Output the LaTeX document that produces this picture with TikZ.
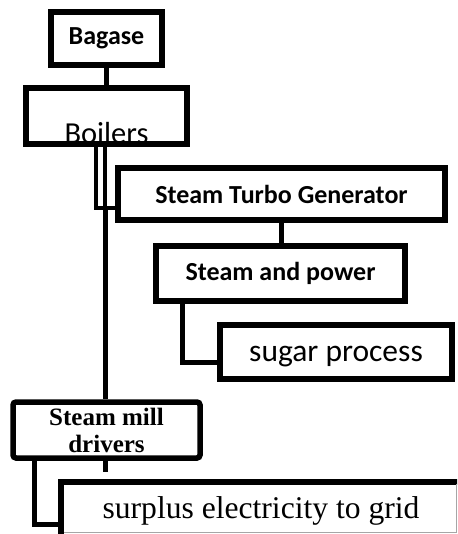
\documentclass[tikz,border=0pt]{standalone}
\usepackage{fontspec}
\setmainfont{Liberation Serif}
\newfontfamily\calibri{Carlito}
\begin{document}
\begin{tikzpicture}[x=1pt,y=-1pt,
	box/.style={draw, line width=5.5pt, inner sep=0pt},
	head/.style={font=\calibri\bfseries\fontsize{26}{27}\selectfont},
	plain/.style={font=\calibri\fontsize{30.5}{32}\selectfont},
	link/.style={line width=5pt},
	twin/.style={line width=4pt}]
	\useasboundingbox (0,0) rectangle (457,534);
	\clip (0,0) rectangle (457,534);
	\node[box, head, minimum width=111pt, minimum height=53pt] (bagase) at (106.5,38.5) {Bagase};
	\node[box, minimum width=161pt, minimum height=56pt, label={[plain, anchor=base, label distance=-3.5pt]south:Boilers}] (boilers) at (106.5,116) {};
	\node[box, head, minimum width=327pt, minimum height=52pt] (stg) at (281.5,194) {Steam Turbo Generator};
	\node[box, head, minimum width=249pt, minimum height=55pt] (power) at (280.5,273.5) {Steam and power};
	\node[box, plain, font=\calibri\fontsize{31.5}{33}\selectfont, minimum width=232pt, minimum height=54pt, text height=18pt, text depth=0pt] (sugar) at (336,352) {sugar process};
	\node[box, rounded corners=3pt, align=center, font=\bfseries\fontsize{25}{27}\selectfont, minimum width=187pt, minimum height=56pt] (mill) at (106.5,430) {Steam mill\\drivers};
	\node[box, font=\fontsize{31.6}{33}\selectfont, minimum width=400pt, minimum height=58pt] (grid) at (261,511) {surplus electricity to grid};
	\coordinate (jog) at (105,208);
	\coordinate (stub) at (105,472);
	\draw[link] (bagase) -- (boilers);
	\draw[twin] ([xshift=-1.5pt]boilers.south) |- (jog -| stg.west);
	\draw[twin] ([xshift=-10.5pt]boilers.south) |- (jog);
	\draw[link] (jog) -- (jog |- mill.north);
	\draw[link] (stg) -- (stg.south |- power.north);
	\draw[link] ([xshift=29.25pt]power.south west) |- ([yshift=-10pt]sugar.west);
	\draw[link] (mill.south -| stub) -- (stub);
	\draw[link] ([xshift=23.75pt]mill.south west) |- ([yshift=-13pt]grid.west);
	\draw[gray!70, line width=1pt] (456.5,484) |- (64,532.5);
\end{tikzpicture}
\end{document}
